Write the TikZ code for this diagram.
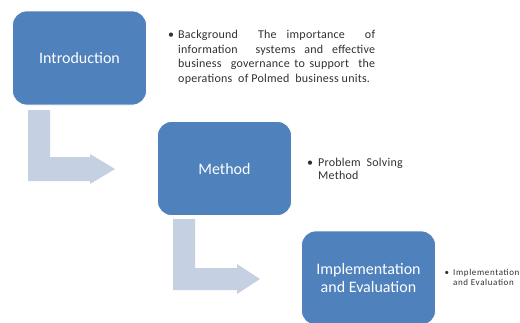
\documentclass[tikz,border=0pt]{standalone}
\usepackage{fontspec}
\setmainfont{Carlito}
\newfontfamily\notefont[LetterSpace=2]{Carlito}
\newfontfamily\tinynotefont[LetterSpace=7]{Carlito}
\definecolor{stageblue}{HTML}{4F81BD}
\definecolor{bendblue}{HTML}{C6D0E3}
\definecolor{notegray}{HTML}{303030}

\begin{document}
\begin{tikzpicture}[x=1pt,y=-1pt,
    stage/.style={draw=white,line width=0.8pt,fill=stageblue,rounded corners=14pt,
      minimum width=134pt,minimum height=94pt,text=white,align=center,
      font=\fontsize{16}{18}\selectfont},
    note/.style={anchor=north west,inner sep=0pt,text=notegray}]
  \useasboundingbox (0,0) rectangle (520,322);
  % bent arrows
  \fill[bendblue] (28,110) -- (50,110) -- (50,157) -- (90,157) -- (90,154)
                  -- (115,169) -- (90,184) -- (90,181) -- (28,181) -- cycle;
  \fill[bendblue] (173,219) -- (195,219) -- (195,268) -- (237,268) -- (237,264)
                  -- (260,279) -- (237,294) -- (237,290) -- (173,290) -- cycle;
  % stages
  \node[stage] (intro)  at (79.5,58)  {Introduction};
  \node[stage] (method) at (224.5,168.5) {Method};
  \node[stage] (impl)   at (368.5,278) {Implementation\\and Evaluation};
  % notes
  \node[note,text width=197pt,align=justify,font=\notefont\fontsize{12}{14.5}\selectfont]
    (introNote) at (178,30)
    {\parfillskip=0pt\llap{\textbullet\hspace{4pt}}Background\ \ The importance\ \ of\linebreak
     information\ \ systems and effective\linebreak
     business\ \ governance to support\ \ the\linebreak
     operations\ \ of Polmed\ \ business units.};
  \node[note,align=left,font=\notefont\fontsize{12}{13}\selectfont]
    (methodNote) at (318,158)
    {\llap{\textbullet\hspace{5pt}}Problem\ \ Solving\\Method};
  \node[note,align=left,font=\tinynotefont\fontsize{9}{10}\selectfont]
    (implNote) at (453,269.5)
    {\llap{\textbullet\hspace{4pt}}Implementation\\and Evaluation};
\end{tikzpicture}
\end{document}
